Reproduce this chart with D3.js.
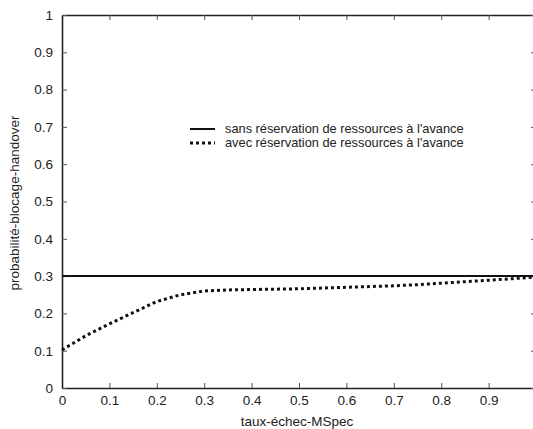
<!DOCTYPE html>
<html>
<head>
<meta charset="utf-8">
<script src="https://cdn.jsdelivr.net/npm/d3@7"></script>
<style>
  body { margin: 0; background: #fff; }
  svg text { font-family: Arial, "Liberation Sans", sans-serif; fill: #222; }
</style>
</head>
<body>
<div id="chart"></div>
<script>
// data
const xValues = [0, 0.05, 0.1, 0.15, 0.2, 0.25, 0.3, 0.35, 0.4, 0.45, 0.5,
                 0.55, 0.6, 0.65, 0.7, 0.75, 0.8, 0.85, 0.9, 0.95, 1]
const sansValues = [0.3, 0.3, 0.3, 0.3, 0.3, 0.3, 0.3, 0.3, 0.3, 0.3, 0.3,
                    0.3, 0.3, 0.3, 0.3, 0.3, 0.3, 0.3, 0.3, 0.3, 0.3]
const avecValues = [0.102, 0.14, 0.172, 0.202, 0.232, 0.25, 0.26, 0.263, 0.264, 0.265, 0.266,
                    0.268, 0.27, 0.272, 0.274, 0.277, 0.281, 0.285, 0.289, 0.293, 0.298]
const seriesNames = ["sans réservation de ressources à l'avance",
                     "avec réservation de ressources à l'avance"]
const xTickLabels = ["0", "0.1", "0.2", "0.3", "0.4", "0.5", "0.6", "0.7", "0.8", "0.9"]
const yTickLabels = ["0", "0.1", "0.2", "0.3", "0.4", "0.5", "0.6", "0.7", "0.8", "0.9", "1"]
const xTitle = "taux-échec-MSpec"
const yTitle = "probabilité-blocage-handover"

// dimensions
let dimensions = {
  width: 533,
  height: 429,
  margin: { top: 15, right: -3, bottom: 41, left: 62 },
}
dimensions.boundedWidth = dimensions.width - dimensions.margin.left - dimensions.margin.right
dimensions.boundedHeight = dimensions.height - dimensions.margin.top - dimensions.margin.bottom

const wrapper = d3.select("#chart")
  .append("svg")
    .attr("width", dimensions.width)
    .attr("height", dimensions.height)

wrapper.append("rect")
  .attr("width", dimensions.width)
  .attr("height", dimensions.height)
  .attr("fill", "#fff")

const bounds = wrapper.append("g")
  .attr("transform", `translate(${dimensions.margin.left},${dimensions.margin.top})`)

// scales
const xScale = d3.scaleLinear()
  .domain([0, 1])
  .range([0, dimensions.boundedWidth])

const yScale = d3.scaleLinear()
  .domain([0, 1])
  .range([dimensions.boundedHeight, 0])

const fontSize = 13.5

// axes (ticks point inward, box all round)
const xTickVals = xTickLabels.map(Number)
const yTickVals = yTickLabels.map(Number)

const xAxis = bounds.append("g")
  .attr("transform", `translate(0,${dimensions.boundedHeight})`)
  .call(d3.axisBottom(xScale).tickValues(xTickVals).tickFormat((d, i) => xTickLabels[i])
    .tickSizeInner(-5).tickSizeOuter(0).tickPadding(7))

const xAxisTop = bounds.append("g")
  .call(d3.axisTop(xScale).tickValues(xTickVals).tickFormat("")
    .tickSizeInner(-5).tickSizeOuter(0))

const yAxis = bounds.append("g")
  .call(d3.axisLeft(yScale).tickValues(yTickVals).tickFormat((d, i) => yTickLabels[i])
    .tickSizeInner(-5).tickSizeOuter(0).tickPadding(9))

const yAxisRight = bounds.append("g")
  .attr("transform", `translate(${dimensions.boundedWidth},0)`)
  .call(d3.axisRight(yScale).tickValues(yTickVals).tickFormat("")
    .tickSizeInner(-5).tickSizeOuter(0))

bounds.selectAll(".domain")
  .attr("stroke", "#222")
  .attr("stroke-width", 1.6)
bounds.selectAll(".tick line")
  .attr("stroke", "#555")
  .attr("stroke-width", 1)
bounds.selectAll(".tick text")
  .style("font-size", fontSize + "px")
  .style("font-family", "Arial, 'Liberation Sans', sans-serif")
  .attr("fill", "#222")

// lines
const lineGenerator = d3.line()
  .x((d, i) => xScale(xValues[i]))
  .y(d => yScale(d))

bounds.append("path")
  .attr("d", lineGenerator(sansValues))
  .attr("fill", "none")
  .attr("stroke", "#111")
  .attr("stroke-width", 2)

bounds.append("path")
  .attr("d", lineGenerator(avecValues))
  .attr("fill", "none")
  .attr("stroke", "#111")
  .attr("stroke-width", 3)
  .attr("stroke-dasharray", "3,3")

// legend
const legend = wrapper.append("g")
  .attr("transform", "translate(190,129)")

const legendRows = legend.selectAll("g")
  .data(seriesNames)
  .join("g")
    .attr("transform", (d, i) => `translate(0,${i * 14})`)

legendRows.append("line")
  .attr("x1", 0)
  .attr("x2", 25)
  .attr("stroke", "#111")
  .attr("stroke-width", (d, i) => i === 0 ? 2 : 3)
  .attr("stroke-dasharray", (d, i) => i === 0 ? null : "3,3")

legendRows.append("text")
  .attr("x", 35)
  .attr("dy", "0.35em")
  .style("font-size", "12.8px")
  .text(d => d)

// axis titles
wrapper.append("text")
  .attr("x", 297)
  .attr("y", 426)
  .attr("text-anchor", "middle")
  .style("font-size", fontSize + "px")
  .text(xTitle)

wrapper.append("text")
  .attr("transform", "translate(19,203) rotate(-90)")
  .attr("text-anchor", "middle")
  .style("font-size", fontSize + "px")
  .text(yTitle)
</script>
</body>
</html>
